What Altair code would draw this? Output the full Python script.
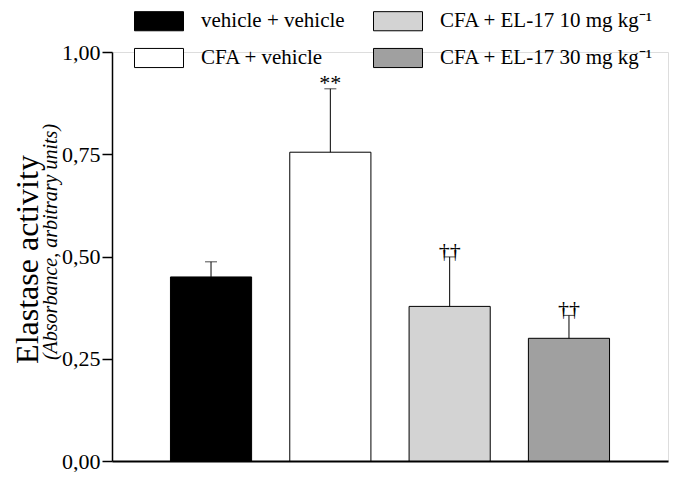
import altair as alt
import pandas as pd

groups = ["vehicle + vehicle", "CFA + vehicle", "CFA + EL-17 10 mg kg⁻¹", "CFA + EL-17 30 mg kg⁻¹"]
means = [0.450, 0.755, 0.378, 0.300]
errors = [0.037, 0.155, 0.121, 0.056]
signif = ["", "**", "††", "††"]
fill_colors = ["#000000", "#ffffff", "#d3d3d3", "#a0a0a0"]
y_ticks = [0, 0.25, 0.5, 0.75, 1.0]
y_title = "Elastase activity"
y_subtitle = "(Absorbance, arbitrary units)"

df = pd.DataFrame({
    "group": groups,
    "mean": means,
    "upper": [m + e for m, e in zip(means, errors)],
    "sig": signif,
})

SERIF = "Liberation Serif"

x_enc = alt.X(
    "group:N",
    sort=groups,
    scale=alt.Scale(paddingInner=0.32, paddingOuter=0.49),
    axis=alt.Axis(labels=False, ticks=False, title=None, domainColor="black", domainWidth=2),
)

y_scale = alt.Scale(domain=[0, 1], nice=False)

base = alt.Chart(df)

bars = base.mark_bar(stroke="black", strokeWidth=1).encode(
    x=x_enc,
    y=alt.Y(
        "mean:Q",
        scale=y_scale,
        axis=alt.Axis(
            values=y_ticks,
            labelExpr="replace(format(datum.value, '.2f'), '.', ',')",
            tickSize=10,
            tickWidth=1.5,
            tickColor="black",
            domainColor="black",
            domainWidth=1.5,
            grid=False,
            labelFont=SERIF,
            labelFontSize=22,
            labelColor="black",
            labelPadding=2,
            title=y_title,
            titleFont=SERIF,
            titleFontSize=32,
            titleFontWeight="normal",
            titleColor="black",
            titleAngle=270,
            titleAlign="center",
            titleBaseline="alphabetic",
            titleX=-75,
            titleY=207,
        ),
    ),
    fill=alt.Fill(
        "group:N",
        scale=alt.Scale(domain=groups, range=fill_colors),
        legend=alt.Legend(
            title=None,
            orient="none",
            legendX=22,
            legendY=-56,
            columns=2,
            symbolType="M-1,-0.39L1,-0.39L1,0.39L-1,0.39Z",
            symbolSize=2401,
            symbolStrokeColor="black",
            symbolStrokeWidth=1,
            labelFont=SERIF,
            labelFontSize=21,
            labelColor="black",
            labelOffset=17,
            labelLimit=400,
            columnPadding=26,
            rowPadding=-21,
            padding=0,
        ),
    ),
)

err = base.mark_rule(color="black", strokeWidth=1).encode(
    x=alt.X("group:N", sort=groups),
    y=alt.Y("mean:Q", scale=y_scale),
    y2="upper:Q",
)

caps = base.mark_tick(color="black", size=12, thickness=1).encode(
    x=alt.X("group:N", sort=groups),
    y=alt.Y("upper:Q", scale=y_scale),
)

sig_text = base.mark_text(
    font=SERIF, fontSize=22, color="black", baseline="alphabetic", dy=1
).encode(
    x=alt.X("group:N", sort=groups),
    y=alt.Y("upper:Q", scale=y_scale),
    text="sig:N",
)

sub = alt.Chart(pd.DataFrame({"t": [y_subtitle]})).mark_text(
    font=SERIF, fontSize=20, fontStyle="italic", color="black",
    angle=270, baseline="alphabetic", align="center",
).encode(
    x=alt.value(-55),
    y=alt.value(190),
    text="t:N",
)

chart = alt.layer(bars, err, caps, sig_text, sub).properties(
    width=556,
    height=409,
    autosize=alt.AutoSizeParams(type="none"),
    padding={"left": 104, "top": 44, "right": 4, "bottom": 11},
).configure_view(stroke=None).configure(background="white")

chart.save("out.html", embed_options={"renderer": "svg", "actions": False})
